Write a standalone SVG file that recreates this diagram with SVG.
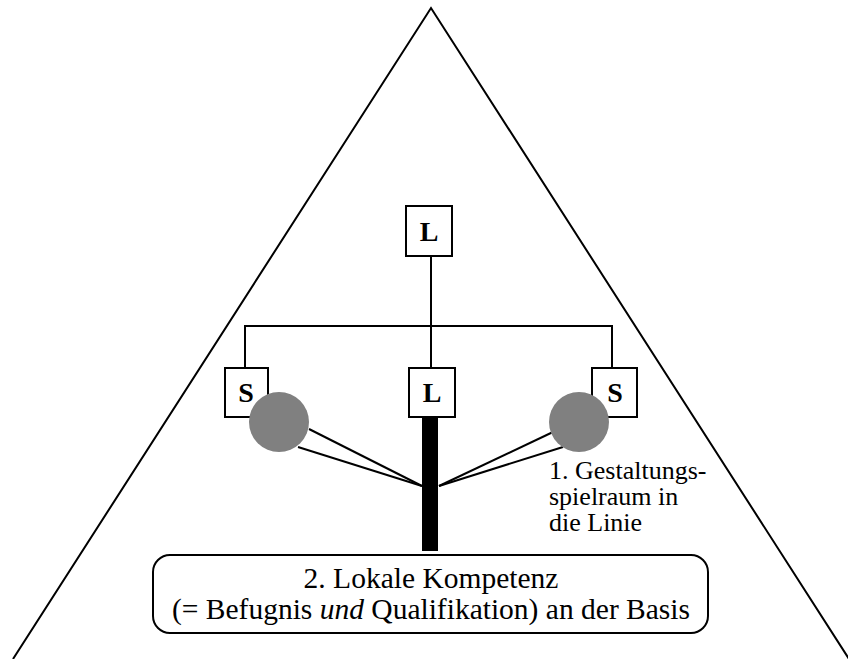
<svg xmlns="http://www.w3.org/2000/svg" width="848" height="659" viewBox="0 0 848 659">
<style>
.ln{fill:none;stroke:#000;stroke-width:2}
.box{fill:#fff;stroke:#000;stroke-width:2}
text{font-family:'Liberation Serif','DejaVu Serif','Times New Roman',serif}
.lbl{font-weight:bold;font-size:28px;text-anchor:middle}
.txt{font-size:26px}
.big{font-size:29.5px;text-anchor:middle}
.dot{fill:#808080}
</style>
<rect width="848" height="659" fill="#fff"/>
<g id="pyramid"><polyline class="ln" points="13,659 431,8 849,659"/></g>
<g id="connectors">
<line class="ln" x1="431" y1="256" x2="431" y2="368"/>
<polyline class="ln" points="245,368 245,326 612,326 612,368"/>
<rect x="422" y="417" width="16" height="134" fill="#000"/>
<line class="ln" x1="309" y1="429" x2="422" y2="486"/>
<line class="ln" x1="298" y1="447" x2="422" y2="486"/>
<line class="ln" x1="553" y1="432" x2="439" y2="486"/>
<line class="ln" x1="563" y1="447" x2="439" y2="486"/>
</g>
<g id="L-top"><rect class="box" x="406" y="206" width="46" height="50"/><text class="lbl" x="429" y="241">L</text></g>
<g id="S-left"><rect class="box" x="225" y="368" width="43" height="49"/><text class="lbl" x="246" y="402">S</text></g>
<g id="L-mid"><rect class="box" x="409" y="368" width="46" height="49"/><text class="lbl" x="432" y="402">L</text></g>
<g id="S-right"><rect class="box" x="592" y="368" width="45" height="49"/><text class="lbl" x="615" y="402">S</text></g>
<g id="circle-left"><circle class="dot" cx="279" cy="422" r="30"/></g>
<g id="circle-right"><circle class="dot" cx="579" cy="422" r="30"/></g>
<g id="note"><text class="txt" x="549" y="479">1. Gestaltungs-</text><text class="txt" x="549" y="505">spielraum in</text><text class="txt" x="549" y="531">die Linie</text></g>
<g id="base"><rect class="box" x="153" y="555" width="555" height="78" rx="17"/>
<text class="big" x="431" y="588">2. Lokale Kompetenz</text>
<text class="big" x="431" y="619">(= Befugnis <tspan font-style="italic">und</tspan> Qualifikation) an der Basis</text></g>
</svg>
